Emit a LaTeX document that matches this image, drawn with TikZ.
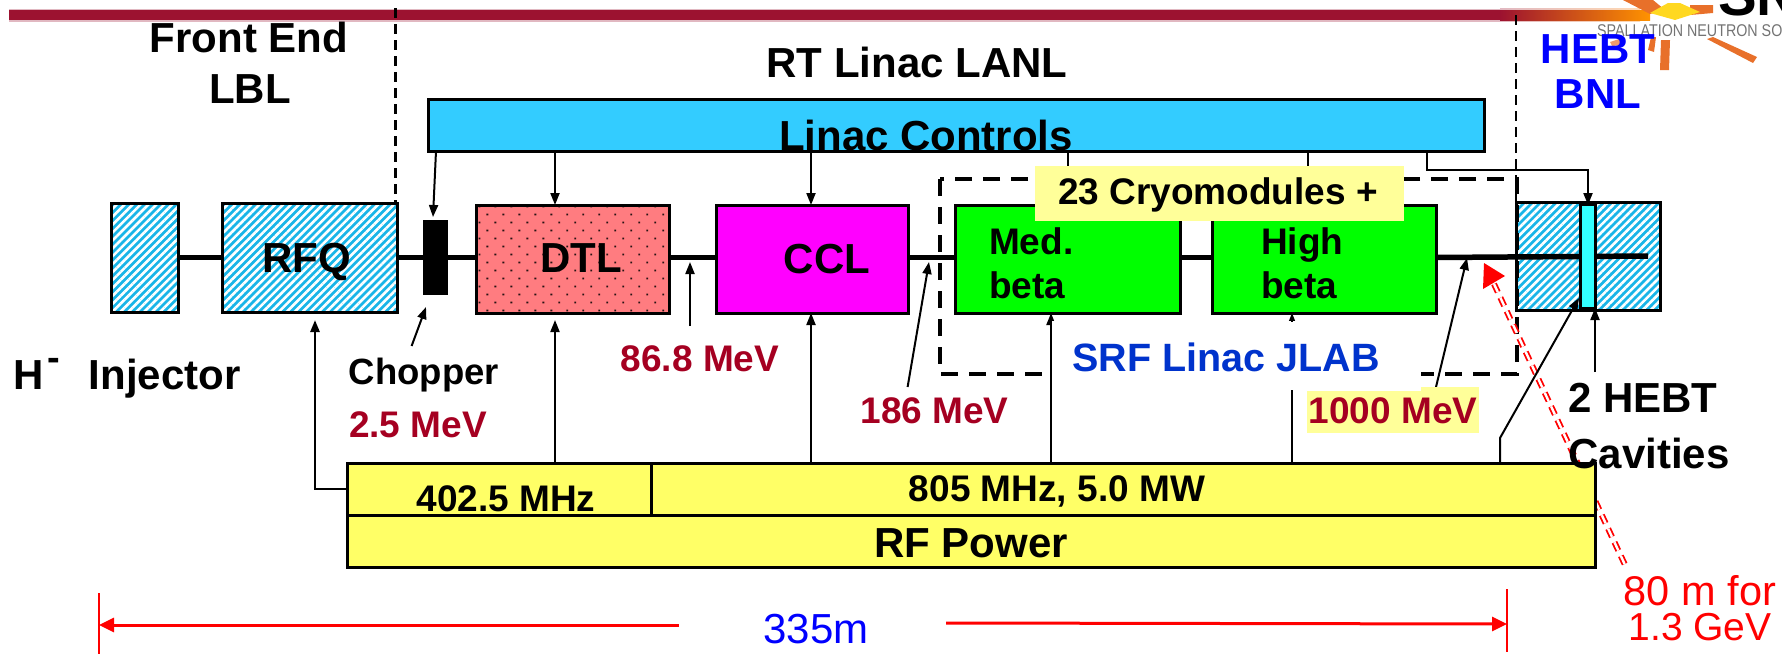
\documentclass[tikz,border=0pt]{standalone}
\usepackage{fontspec}
\setmainfont{Liberation Sans}
\usetikzlibrary{arrows.meta,patterns.meta}
\definecolor{hatchblue}{HTML}{19B5E8}
\definecolor{ctrlblue}{HTML}{33CCFF}
\definecolor{salmon}{HTML}{FF7C80}
\definecolor{rfyellow}{HTML}{FFFF66}
\definecolor{paleyellow}{HTML}{FFFF99}
\definecolor{mevred}{HTML}{A50021}
\definecolor{barred}{HTML}{9C1230}
\definecolor{srfblue}{HTML}{0033CC}
\definecolor{cavcyan}{HTML}{33FFFF}
\definecolor{ccmagenta}{HTML}{FF00FF}
\definecolor{smgreen}{HTML}{00FF00}
\definecolor{rayorange}{HTML}{E8702A}
\definecolor{sunyellow}{HTML}{FFD820}
\tikzset{
  x=1pt,y=-1pt,
  block/.style={draw=black,line width=3pt,inner sep=0pt,outer sep=0pt},
  dims/.style 2 args={minimum width=#1 pt,minimum height=#2 pt},
  hatched/.style={block,preaction={fill=hatchblue},pattern={Lines[angle=45,distance=5.6pt,line width=2.6pt]},pattern color=white},
  dotted fill/.style={block,preaction={fill=salmon},pattern={Dots[angle=45,distance=11.3pt,radius=1.3pt]},pattern color=black!85!salmon},
  rfbox/.style={block,fill=rfyellow},
  tag/.style={anchor=base,inner sep=0pt,outer sep=0pt,font=\bfseries\fontsize{#1}{#1}\selectfont},
  tag/.default=42,
  conn/.style={line width=2pt,-{Triangle[length=12pt,width=9pt]}},
  plainconn/.style={line width=2pt},
  vdash/.style={line width=2.4pt,dash pattern=on 10pt off 6pt},
  rdim/.style={red,line width=3pt,-{Triangle[length=15pt,width=14pt]}},
  rtick/.style={red,line width=2.2pt},
  rnote/.style={anchor=base,inner sep=0pt,outer sep=0pt,red,font=\fontsize{#1}{#1}\selectfont},
}
\begin{document}
\begin{tikzpicture}
\useasboundingbox (0,0) rectangle (1782,654);
\clip (0,0) rectangle (1782,654);
% header bar and logo
\fill[barred!30] (9,8.5) rectangle (1500,21.5);
\fill[barred] (9,10) rectangle (1500,20);
\shade[left color=barred!30,right color=orange!30] (1500,8.5) rectangle (1640,21.5);
\shade[left color=barred,right color=orange!85!yellow] (1500,10) rectangle (1650,20);
\fill[rayorange] (1623,0) -- (1653,0) -- (1665,10) -- (1650,14) -- cycle;
\fill[rayorange] (1690,5) -- (1713,5) -- (1713,13) -- (1690,15) -- cycle;
\fill[rayorange] (1707,39) -- (1713,37) -- (1757,57) -- (1753,63) -- cycle;
\fill[rayorange] (1661,40) -- (1670,40) -- (1669,70) -- (1660,70) -- cycle;
\fill[rayorange] (1651,37) -- (1656,37) -- (1654,52) -- (1648,50) -- cycle;
\fill[rayorange!70] (1610,42) -- (1622,38) -- (1622,45) -- (1612,46) -- cycle;
\fill[sunyellow] (1650,13) -- (1668,3) -- (1680,3) -- (1700,12) -- (1675,20) -- cycle;
\node[anchor=base west,inner sep=0pt,font=\bfseries\fontsize{58}{58}\selectfont] (snslogo) at (1718,15) {SN};
\node[anchor=base west,inner sep=0pt,text=black!55,font=\fontsize{17}{17}\selectfont] (snstext) at (1597,36) {\scalebox{.84}[1]{SPALLATION NEUTRON SOU}};
% region boundaries
\coordinate (fe) at (395.5,8);
\coordinate (he) at (1516,15);
% boxes
\node[hatched,dims={67}{109}] (inj) at (144.5,257.5) {};
\node[hatched,dims={175}{109}] (rfq) at (309.5,257.5) {};
\node[fill=black,inner sep=0pt,outer sep=0pt,dims={25}{75}] (chop) at (435.5,257.5) {};
\node[dotted fill,dims={193}{108}] (dtl) at (572.5,259) {};
\node[block,fill=ccmagenta,dims={192}{108}] (ccl) at (812,259) {};
\node[block,fill=smgreen,dims={225}{108}] (med) at (1067.5,259) {};
\node[block,fill=smgreen,dims={224}{108}] (high) at (1324,259) {};
\node[hatched,dims={144}{108}] (hebt) at (1588,256) {};
\coordinate (beamend) at (1648,256);
% region dashes
\draw[vdash] (fe) -- (fe |- rfq.north);
\draw[vdash] (he) -- (he |- hebt.north);
% beam line
\draw[line width=5.5pt] (inj.east) -- (rfq.west);
\draw[line width=5.5pt] (rfq.east) -- (chop.west);
\draw[line width=5.5pt] (chop.east) -- (dtl.west |- chop.east);
\draw[line width=5.5pt] (dtl.east |- inj.east) -- (ccl.west |- inj.east);
\draw[line width=5.5pt] (ccl.east |- inj.east) -- (med.west |- inj.east);
\draw[line width=5.5pt] (med.east |- inj.east) -- (high.west |- inj.east);
\draw[line width=5.5pt] (high.east |- inj.east) -- (beamend);
\node[block,fill=cavcyan,line width=2.4pt,dims={15}{103}] (cav) at (1588,256.5) {};
% SRF dashed outline
\coordinate (srfnw) at (940,179);
\coordinate (srfse) at (1517,374);
\draw[line width=3.6pt,dash pattern=on 17pt off 11pt] (srfnw) -- (srfnw |- srfse) -- (srfse) -- (srfse |- srfnw) -- cycle;
% controls
\node[block,fill=ctrlblue,dims={1056}{52}] (ctrl) at (956,125) {};
\node[tag] (ctrllab) at (926,150) {Linac Controls};
\coordinate (pc0) at (436,151);
\coordinate (pc1) at (555,151);
\coordinate (pc2) at (811,151);
\coordinate (pc3) at (1067.5,151);
\coordinate (pc4) at (1308,151);
\coordinate (pc5) at (1426.6,151);
\coordinate (chopin) at (433,217);
\draw[conn] (pc0) -- (chopin);
\draw[conn] (pc1) -- (pc1 |- dtl.north);
\draw[conn] (pc2) -- (pc2 |- ccl.north);
\draw[plainconn] (pc3) -- (pc3 |- med.north);
\draw[plainconn] (pc4) -- (pc4 |- high.north);
\draw[conn] (pc5) -- (1426.6,170) -| (cav.north);
% red note pointer
\coordinate (notetip) at (1484,263);
\coordinate (noteend) at (1626,567);
\draw[red,line width=1.8pt,double=white,double distance=2.4pt,dash pattern=on 9pt off 6pt] (1494,284) -- (noteend);
\fill[red] (notetip) -- (1505,276) -- (1483,289) -- cycle;
% RF power
\node[rfbox,dims={1248}{52}] (rfpow) at (971,541) {};
\node[rfbox,dims={304.5}{52}] (rflow) at (499.25,489) {};
\node[rfbox,dims={943.5}{52}] (rfhigh) at (1123.25,489) {};
\coordinate (prf) at (315,320);
\coordinate (r1) at (555,320);
\coordinate (r2) at (811,313);
\coordinate (r3) at (1051,313);
\coordinate (r4) at (1292,313);
\coordinate (r5) at (1500,438);
\coordinate (cavin) at (1579,298);
\draw[conn,line width=2.6pt] (rflow.west) -- (rflow.west -| prf) -- (prf);
\draw[conn] (r1 |- rflow.north) -- (r1);
\draw[conn] (r2 |- rfhigh.north) -- (r2);
\draw[conn] (r3 |- rfhigh.north) -- (r3);
\draw[conn] (r4 |- rfhigh.north) -- (r4);
\draw[conn] (r5 |- rfhigh.north) -- (r5) -- (cavin);
\coordinate (cavptr) at (1595,372);
\draw[conn] (cavptr) -- (cavptr |- cav.south);
% SRF label mask
\node[fill=white,inner sep=0pt,dims={369}{69}] (srfmask) at (1236,355.5) {};
\draw[line width=0.8pt] (r3) -- (1051,390);
\node[tag=39.5,text=srfblue] (srf) at (1226,371) {SRF Linac JLAB};
\draw[plainconn] (1292,313) -- (1292,322);
% pointers
\coordinate (a1) at (411.6,346);
\coordinate (a2) at (690,326);
\coordinate (a3) at (907.6,387);
\coordinate (a4) at (1436,387);
\draw[conn] (a1) -- (426,307);
\draw[conn] (a2) -- (690,262);
\draw[conn] (a3) -- (929,262);
\draw[conn] (a4) -- (1467,258);
% cryomodule label
\node[fill=paleyellow,inner sep=0pt,dims={369}{55}] (cryobg) at (1219.5,193.5) {};
\node[tag=37] (cryo) at (1218,204) {23 Cryomodules +};
% labels in boxes
\node[tag] (rfqlab) at (307,272) {RFQ};
\node[tag] (dtllab) at (581,272) {DTL};
\node[tag] (ccllab) at (827,273) {CCL};
\node[tag=37,anchor=base west] (medlab) at (989,254) {Med.};
\node[tag=37,anchor=base west] (medb) at (989,298) {beta};
\node[tag=37,anchor=base west] (hilab) at (1261,254) {High};
\node[tag=37,anchor=base west] (hib) at (1261,298) {beta};
% headings
\node[tag] (fe1) at (249,52) {Front End};
\node[tag] (fe2) at (250,103) {LBL};
\node[tag] (rt) at (917,77) {RT Linac LANL};
\node[tag,text=blue] (hb1) at (1598,63) {HEBT};
\node[tag,text=blue] (hb2) at (1598,108) {BNL};
% side labels
\node[tag=42,anchor=base west] (hinj) at (13,389) {H\hspace{4pt}\raisebox{19pt}{\bfseries\fontsize{38}{38}\selectfont -}\hspace{29pt}Injector};
\node[tag=36.5] (chp) at (424,384) {Chopper};
\node[tag=37,text=mevred] (m1) at (418,437) {2.5 MeV};
\node[tag=37,text=mevred] (m2) at (700,371) {86.8 MeV};
\node[tag=37,text=mevred] (m3) at (934.5,423) {186 MeV};
\fill[paleyellow] (1307,391) rectangle (1479,433);
\fill[paleyellow] (1421,387) rectangle (1479,391);
\node[tag=37,text=mevred] (m4) at (1393,423) {1000 MeV};
\node[tag=42] (h2) at (1643,412) {2 HEBT};
\node[tag=42] (h3) at (1649,468) {Cavities};
\node[tag=37] (f1) at (506,511) {402.5 MHz};
\node[tag=37] (f2) at (1057,501) {805 MHz, 5.0 MW};
\node[tag=42] (rfl) at (971,557) {RF Power};
% dimension
\coordinate (dl) at (99,625);
\coordinate (dr) at (1507,624);
\draw[rtick] (99,593) -- (99,654);
\draw[rtick] (1507,589) -- (1507,652);
\node[anchor=base,inner sep=0pt,outer sep=0pt,text=blue,font=\fontsize{42}{42}\selectfont] (len) at (816,643) {335m};
\draw[rdim] (678.5,625) -- (dl);
\draw[rdim] (946,623) -- (dr);
\node[rnote=41.5] (n1) at (1700,605) {80 m for};
\node[rnote=39] (n2) at (1700,640) {1.3 GeV};
\end{tikzpicture}
\end{document}
